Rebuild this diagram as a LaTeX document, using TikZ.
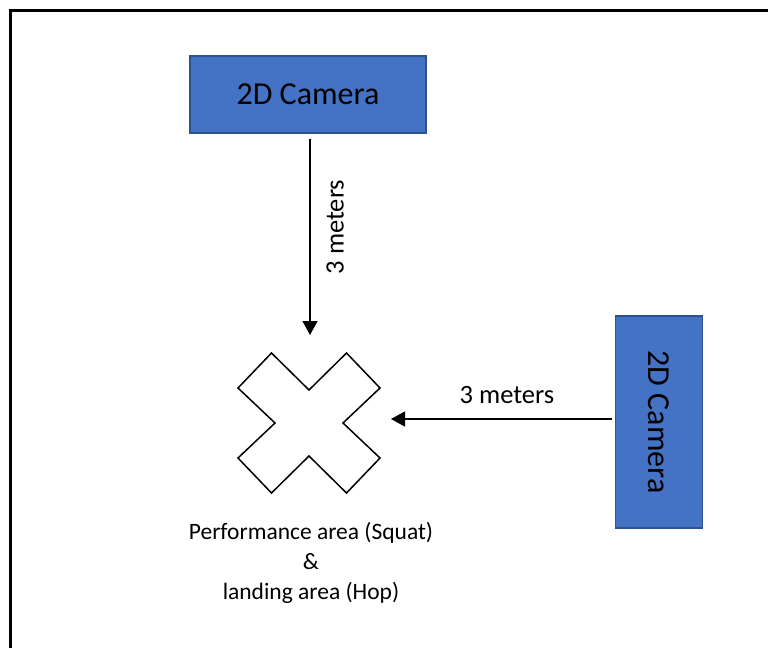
\documentclass[tikz,border=0pt]{standalone}
\usepackage{fontspec}
\setmainfont{Carlito}
\usepackage{tikz}
\usetikzlibrary{positioning, arrows.meta}
\definecolor{camblue}{HTML}{4472C4}
\definecolor{camedge}{HTML}{2F528F}

\begin{document}
\begin{tikzpicture}[x=1pt, y=-1pt,
    camnode/.style={draw=camedge, fill=camblue, line width=1.5pt, inner sep=0pt, font=\fontsize{32}{38}\selectfont},
    distarrow/.style={line width=1.3pt, -{Triangle[length=14pt, width=15pt]}},
    distlabel/.style={font=\fontsize{26.5}{31}\selectfont}
]
\useasboundingbox (0,0) rectangle (768,648);
\draw[line width=3pt] (10,648) -- (10,10) -- (768,10);

\node[camnode, minimum width=236pt, minimum height=77pt] (topcam) at (308,94.5) {\raisebox{-2pt}{2D Camera}};
\node[camnode, minimum width=212pt, minimum height=87pt, rotate=-90] (sidecam) at (659,422) {2D Camera};

% performance area
\coordinate (area) at (309,423);
\begin{scope}[shift={(area)}]
\draw[line width=1.5pt] (-71,-35) -- (-37.5,-70) -- (0,-33) -- (37.5,-70) -- (71,-35) -- (34,0)
    -- (71,35) -- (37.5,70) -- (0,33) -- (-37.5,70) -- (-71,35) -- (-34,0) -- cycle;
\end{scope}
\coordinate (areatop) at (310,335);
\coordinate (arearight) at (391,419);

\draw[distarrow, shorten <=5pt] (areatop |- topcam.south) -- (areatop);
\draw[distarrow, shorten <=3pt] (sidecam.south |- arearight) -- (arearight);

\node[distlabel, rotate=90] (vlabel) at (335,227) {3 meters};
\node[distlabel] (hlabel) at (507,395) {3 meters};

\node[align=center, inner sep=0pt, font=\fontsize{23.5}{30}\selectfont] (arealabel) at (311,563)
    {Performance area (Squat)\\\&\\landing area (Hop)};
\end{tikzpicture}
\end{document}
